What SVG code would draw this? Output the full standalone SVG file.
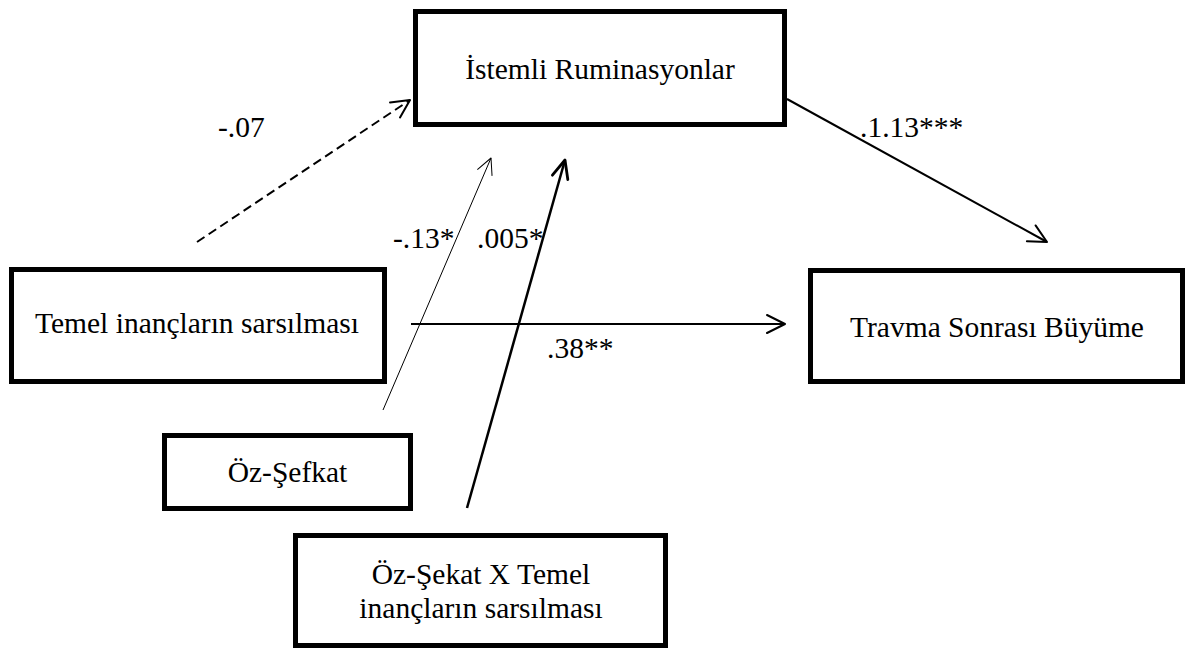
<svg xmlns="http://www.w3.org/2000/svg" width="1186" height="651" viewBox="0 0 1186 651">
<style>
.box{fill:#fff;stroke:#000;stroke-width:5}
.t{font-family:"Liberation Serif","Times New Roman",serif;font-size:29.5px;fill:#000}
.c{text-anchor:middle}
.ln{fill:none;stroke:#000}
</style>
<defs>
<marker id="ah2" markerUnits="userSpaceOnUse" markerWidth="40" markerHeight="40" refX="0" refY="0" viewBox="-25 -20 30 40" orient="auto">
<path d="M-18,-9 L0,0 L-18,9" fill="none" stroke="#000" stroke-width="2" stroke-linejoin="round" stroke-linecap="round"/>
</marker>
<marker id="ah3" markerUnits="userSpaceOnUse" markerWidth="40" markerHeight="40" refX="0" refY="0" viewBox="-25 -20 30 40" orient="auto">
<path d="M-18,-8 L0,0 L-18,8" fill="none" stroke="#000" stroke-width="2.8" stroke-linejoin="round" stroke-linecap="round"/>
</marker>
<marker id="ah1" markerUnits="userSpaceOnUse" markerWidth="40" markerHeight="40" refX="0" refY="0" viewBox="-25 -20 30 40" orient="auto">
<path d="M-16,-8 L0,0 L-16,8" fill="none" stroke="#000" stroke-width="1" stroke-linejoin="round"/>
</marker>
</defs>
<g id="connectors">
<line class="ln" x1="197" y1="242" x2="410" y2="100" stroke-width="2" stroke-dasharray="9,5" marker-end="url(#ah2)"/>
<line class="ln" x1="383" y1="410" x2="491" y2="158" stroke-width="1" marker-end="url(#ah1)"/>
<line class="ln" x1="467" y1="508" x2="565" y2="160" stroke-width="2.5" marker-end="url(#ah3)"/>
<line class="ln" x1="411" y1="324" x2="785" y2="324" stroke-width="2" marker-end="url(#ah2)"/>
<line class="ln" x1="787" y1="99" x2="1047" y2="242" stroke-width="2" marker-end="url(#ah2)"/>
</g>
<g id="labels">
<text class="t" x="218" y="137">-.07</text>
<text class="t" x="393" y="248">-.13*</text>
<text class="t" x="477" y="248">.005*</text>
<text class="t" x="860" y="137">.1.13***</text>
<text class="t" x="547" y="358">.38**</text>
</g>
<g id="node-istemli">
<rect class="box" x="415.5" y="11.5" width="369" height="113"/>
<text class="t c" x="600" y="79">İstemli Ruminasyonlar</text>
</g>
<g id="node-temel">
<rect class="box" x="11.5" y="269.5" width="373" height="112"/>
<text class="t c" x="197" y="333">Temel inançların sarsılması</text>
</g>
<g id="node-travma">
<rect class="box" x="810.5" y="270.5" width="372" height="111"/>
<text class="t c" x="997" y="337">Travma Sonrası Büyüme</text>
</g>
<g id="node-ozsefkat">
<rect class="box" x="164.5" y="435.5" width="246" height="73"/>
<text class="t c" x="287.5" y="482">Öz-Şefkat</text>
</g>
<g id="node-interaction">
<rect class="box" x="295.5" y="535.5" width="370" height="110"/>
<text class="t c" x="481" y="584">Öz-Şekat X Temel</text>
<text class="t c" x="481" y="618">inançların sarsılması</text>
</g>
</svg>
